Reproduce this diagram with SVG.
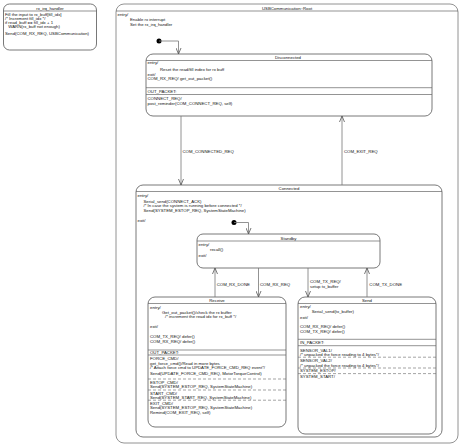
<svg xmlns="http://www.w3.org/2000/svg" width="460" height="446" viewBox="0 0 460 446">
<style>
text{font-family:"Liberation Sans",Arial,sans-serif;font-size:4.3px;fill:#111}
.t{text-anchor:middle}
.box{fill:#fff;stroke:#555;stroke-width:0.8}
.sep{stroke:#666;stroke-width:0.7}
.dash{stroke:#666;stroke-width:0.6;stroke-dasharray:3,2}
.con{fill:none;stroke:#777;stroke-width:0.8}
</style>
<defs>
<marker id="ah" viewBox="0 0 6 6" refX="6" refY="3" markerWidth="6" markerHeight="6" orient="auto" markerUnits="userSpaceOnUse">
<path d="M0,0.5 L6,3 L0,5.5" fill="none" stroke="#555" stroke-width="0.8"/>
</marker>
</defs>
<rect width="460" height="446" fill="#fff"/>

<g id="rx_irq_handler">
<rect class="box" x="3.5" y="4" width="93" height="46" rx="6"/>
<text class="t" x="50" y="9.8">rx_irq_handler</text>
<line class="sep" x1="3.5" y1="11" x2="96.5" y2="11"/>
<text x="5" y="15.8">Fill the input to rx_buff[fill_idx]</text>
<text x="5" y="19.7">/* Increment fill_idx */</text>
<text x="5" y="23.6">if read_buff == fill_idx + 1</text>
<text x="8.3" y="27.5">WARN(rx_buff not enough)</text>
<text x="5" y="35">Send(COM_RX_REQ, USBCommunication)</text>
</g>

<g id="root">
<rect class="box" x="116" y="4" width="342" height="439" rx="8" style="stroke:#777"/>
<text class="t" x="287" y="9.8">USBCommunication::Root</text>
<line class="sep" x1="116" y1="11" x2="458" y2="11"/>
<text x="117.5" y="15.5">entry/</text>
<text x="130" y="20.8">Enable rx interrupt</text>
<text x="130" y="26.3">Set the rx_irq_handler</text>
<circle cx="159" cy="41" r="2.5" fill="#000"/>
</g>

<g id="disconnected">
<rect class="box" x="146" y="54" width="286" height="62" rx="7"/>
<text class="t" x="288" y="58.8">Disconnected</text>
<line class="sep" x1="146" y1="60.5" x2="432" y2="60.5"/>
<text x="147.5" y="63.8">entry/</text>
<text x="160" y="70.8">Reset the read/fill index for rx buff</text>
<text x="147.5" y="75.8">exit/</text>
<text x="147.5" y="79.8">COM_RX_REQ/ get_out_packet()</text>
<line class="sep" x1="146" y1="87.7" x2="432" y2="87.7"/>
<text x="147.5" y="93">OUT_PACKET:</text>
<line class="sep" x1="146" y1="94.5" x2="432" y2="94.5"/>
<text x="147.5" y="99.8">CONNECT_REQ/</text>
<text x="147.5" y="104.8">post_reminder(COM_CONNECT_REQ, self)</text>
</g>

<g id="connected">
<rect class="box" x="136" y="185" width="306" height="252" rx="7"/>
<text class="t" x="289" y="189.8">Connected</text>
<line class="sep" x1="136" y1="191.5" x2="442" y2="191.5"/>
<text x="137.5" y="197.2">entry/</text>
<text x="143.5" y="202.5">Serial_send(CONNECT_ACK)</text>
<text x="143.5" y="206.8">/* In case the system is running before connected */</text>
<text x="143.5" y="211.8">Send(SYSTEM_ESTOP_REQ, SystemStateMachine)</text>
<text x="137.5" y="221.5">exit/</text>
<circle cx="234" cy="222.5" r="2.5" fill="#000"/>
</g>

<g id="standby">
<rect class="box" x="197" y="234" width="183" height="34" rx="6"/>
<text class="t" x="288.5" y="239.8">Standby</text>
<line class="sep" x1="197" y1="241" x2="380" y2="241"/>
<text x="198.5" y="246.2">entry/</text>
<text x="210" y="251.2">recall()</text>
<text x="198.5" y="256.5">exit/</text>
</g>

<g id="receive">
<rect class="box" x="148" y="297" width="138" height="130" rx="7"/>
<text class="t" x="217" y="302.2">Receive</text>
<line class="sep" x1="148" y1="303.5" x2="286" y2="303.5"/>
<text x="150" y="308.5">entry/</text>
<text x="162" y="314">Get_out_packet()/check the rx buffer</text>
<text x="165" y="318.2">/* increment the read idx for rx_buff */</text>
<text x="150" y="328">exit/</text>
<text x="150" y="338.2">COM_TX_REQ/ defer()</text>
<text x="150" y="343.2">COM_RX_REQ/ defer()</text>
<line class="sep" x1="148" y1="350" x2="286" y2="350"/>
<text x="150" y="353.9">OUT_PACKET:</text>
<line class="sep" x1="148" y1="355" x2="286" y2="355"/>
<text x="150" y="360">FORCE_CMD/</text>
<text x="150" y="364.5">get_force_cmd()/Read in more bytes</text>
<text x="150" y="369">/* Attach force cmd to UPDATE_FORCE_CMD_REQ event*/</text>
<text x="150" y="374.8">Send(UPDATE_FORCE_CMD_REQ, MotorTorqueControl)</text>
<line class="dash" x1="148" y1="379" x2="286" y2="379"/>
<text x="150" y="384">ESTOP_CMD/</text>
<text x="150" y="387.8">Send(SYSTEM_ESTOP_REQ, SystemStateMachine)</text>
<line class="dash" x1="148" y1="390" x2="286" y2="390"/>
<text x="150" y="394.5">START_CMD/</text>
<text x="150" y="398.5">Send(SYSTEM_START_REQ, SystemStateMachine)</text>
<line class="dash" x1="148" y1="400.2" x2="286" y2="400.2"/>
<text x="150" y="405">EXIT_CMD/</text>
<text x="150" y="409">Send(SYSTEM_ESTOP_REQ, SystemStateMachine)</text>
<text x="150" y="413.5">Remind(COM_EXIT_REQ, self)</text>
</g>

<g id="send">
<rect class="box" x="298" y="297" width="138" height="137" rx="7"/>
<text class="t" x="367" y="302.2">Send</text>
<line class="sep" x1="298" y1="303.5" x2="436" y2="303.5"/>
<text x="300" y="308.2">entry/</text>
<text x="311.7" y="313.2">Serial_send(tx_buffer)</text>
<text x="300" y="319.2">exit/</text>
<text x="300" y="328.2">COM_RX_REQ/ defer()</text>
<text x="300" y="332.5">COM_TX_REQ/ defer()</text>
<line class="sep" x1="298" y1="339.3" x2="436" y2="339.3"/>
<text x="300" y="344.2">IN_PACKET:</text>
<line class="sep" x1="298" y1="345.7" x2="436" y2="345.7"/>
<text x="300" y="351.5">SENSOR_VAL1/</text>
<text x="300" y="355.5">/* unpacked the force reading to 4 bytes*/</text>
<line class="dash" x1="298" y1="357.2" x2="436" y2="357.2"/>
<text x="300" y="362.2">SENSOR_VAL2/</text>
<text x="300" y="366.5">/* unpacked the force reading to 4 bytes*/</text>
<line class="dash" x1="298" y1="368" x2="436" y2="368"/>
<text x="300" y="371.8">SYSTEM_ESTOP/</text>
<line class="dash" x1="298" y1="373.6" x2="436" y2="373.6"/>
<text x="300" y="378.2">SYSTEM_START/</text>
</g>

<g id="connectors">
<path class="con" d="M159,41 H178.5 V54" marker-end="url(#ah)"/>
<path class="con" d="M181,116 V185" marker-end="url(#ah)"/>
<text x="182.5" y="153">COM_CONNECTED_REQ</text>
<path class="con" d="M342,185 V116" marker-end="url(#ah)"/>
<text x="344" y="153">COM_EXIT_REQ</text>
<path class="con" d="M234,222.5 H248.5 V234" marker-end="url(#ah)"/>
<path class="con" d="M215,297 V268" marker-end="url(#ah)"/>
<text x="216.7" y="285.5">COM_RX_DONE</text>
<path class="con" d="M258.5,268 V297" marker-end="url(#ah)"/>
<text x="260" y="285.5">COM_RX_REQ</text>
<path class="con" d="M308,268 V297" marker-end="url(#ah)"/>
<text x="310" y="283.2">COM_TX_REQ/</text>
<text x="310" y="288.2">setup tx_buffer</text>
<path class="con" d="M367,297 V268" marker-end="url(#ah)"/>
<text x="369.3" y="285.5">COM_TX_DONE</text>
</g>
</svg>
